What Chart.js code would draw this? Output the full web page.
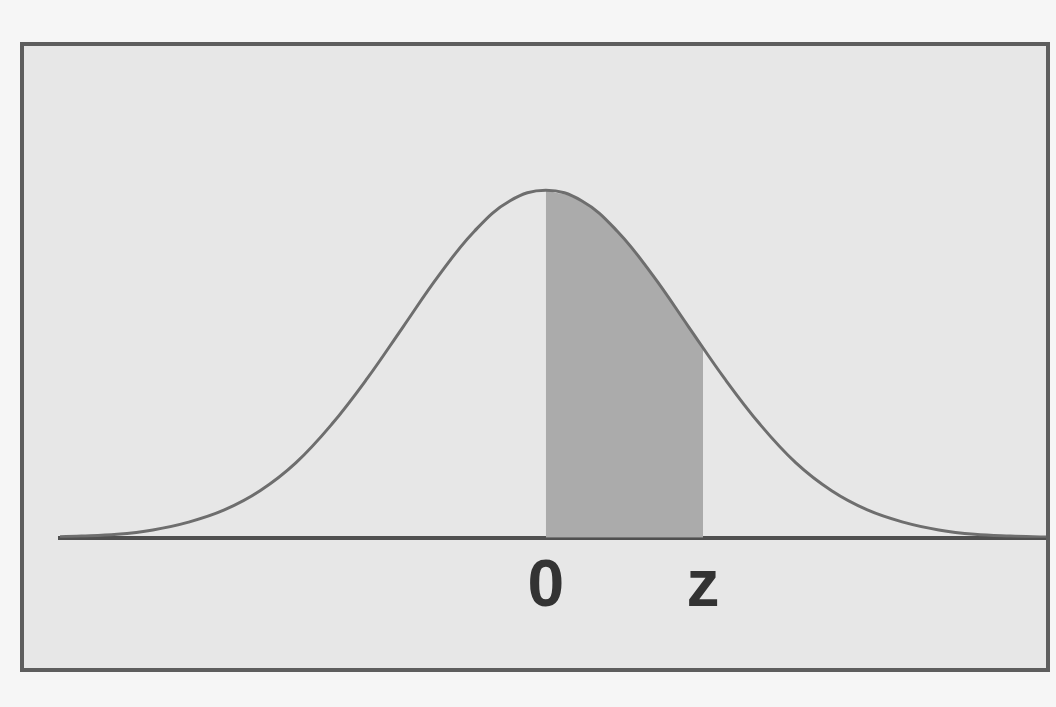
<!DOCTYPE html>
<html>
<head>
<meta charset="utf-8">
<script src="https://cdn.jsdelivr.net/npm/chart.js@4.4.1/dist/chart.umd.min.js"></script>
<style>
  html, body { margin: 0; padding: 0; background: #f6f6f6; width: 1056px; height: 707px; overflow: hidden; }
  #box { position: absolute; left: 20px; top: 42px; width: 1030px; height: 630px; box-sizing: border-box;
         border: 4px solid #5e5e5e; background: #e7e7e7; }
  #wrap { position: absolute; left: 0; top: 0; width: 1022px; height: 622px; }
</style>
</head>
<body>
<div id="box"><div id="wrap"><canvas id="c"></canvas></div></div>
<script>
// z values and density
const curveX = [-3.5, -3.25, -3.0, -2.75, -2.5, -2.25, -2.0, -1.75, -1.5, -1.25, -1.0, -0.75, -0.5, -0.25, 0.0,
                 0.25, 0.5, 0.75, 1.0, 1.25, 1.5, 1.75, 2.0, 2.25, 2.5, 2.75, 3.0, 3.25, 3.5];
const curveY = [0.001, 0.002, 0.004, 0.009, 0.018, 0.032, 0.054, 0.086, 0.130, 0.183, 0.242, 0.301, 0.352, 0.387, 0.399,
                 0.387, 0.352, 0.301, 0.242, 0.183, 0.130, 0.086, 0.054, 0.032, 0.018, 0.009, 0.004, 0.002, 0.001];
// shaded region from 0 to z
const shadeX = [0.0, 0.25, 0.5, 0.75, 1.0, 1.1];
const shadeY = [0.399, 0.387, 0.352, 0.301, 0.242, 0.218];
// tick positions and labels
const tickValues = [0, 1.1];
const tickLabels = ['0', 'z'];

const toPts = (xs, ys) => xs.map((x, i) => ({ x: x, y: ys[i] }));

new Chart(document.getElementById('c'), {
  type: 'line',
  data: {
    datasets: [
      {
        data: toPts(curveX, curveY),
        borderColor: '#6e6e6e',
        borderWidth: 3,
        pointRadius: 0,
        tension: 0.4,
        fill: false,
        order: 0
      },
      {
        data: toPts(shadeX, shadeY),
        borderWidth: 0,
        borderColor: 'rgba(0,0,0,0)',
        backgroundColor: '#ababab',
        pointRadius: 0,
        tension: 0.4,
        fill: 'origin',
        order: 1
      }
    ]
  },
  options: {
    responsive: true,
    maintainAspectRatio: false,
    animation: false,
    layout: { padding: { left: 36, right: 0, top: 126, bottom: 31 } },
    plugins: { legend: { display: false }, tooltip: { enabled: false } },
    scales: {
      x: {
        type: 'linear',
        min: -3.4,
        max: 3.5,
        afterBuildTicks: (axis) => { axis.ticks = tickValues.map(v => ({ value: v })); },
        grid: { display: false, drawTicks: false },
        border: { display: true, color: '#505050', width: 4 },
        ticks: {
          autoSkip: false,
          maxRotation: 0,
          padding: 10,
          color: '#333333',
          font: { family: 'Liberation Sans', size: 66, weight: 'bold' },
          callback: (v) => { const i = tickValues.indexOf(v); return i >= 0 ? tickLabels[i] : ''; }
        }
      },
      y: {
        display: false,
        min: 0,
        max: 0.42
      }
    }
  }
});
</script>
</body>
</html>
